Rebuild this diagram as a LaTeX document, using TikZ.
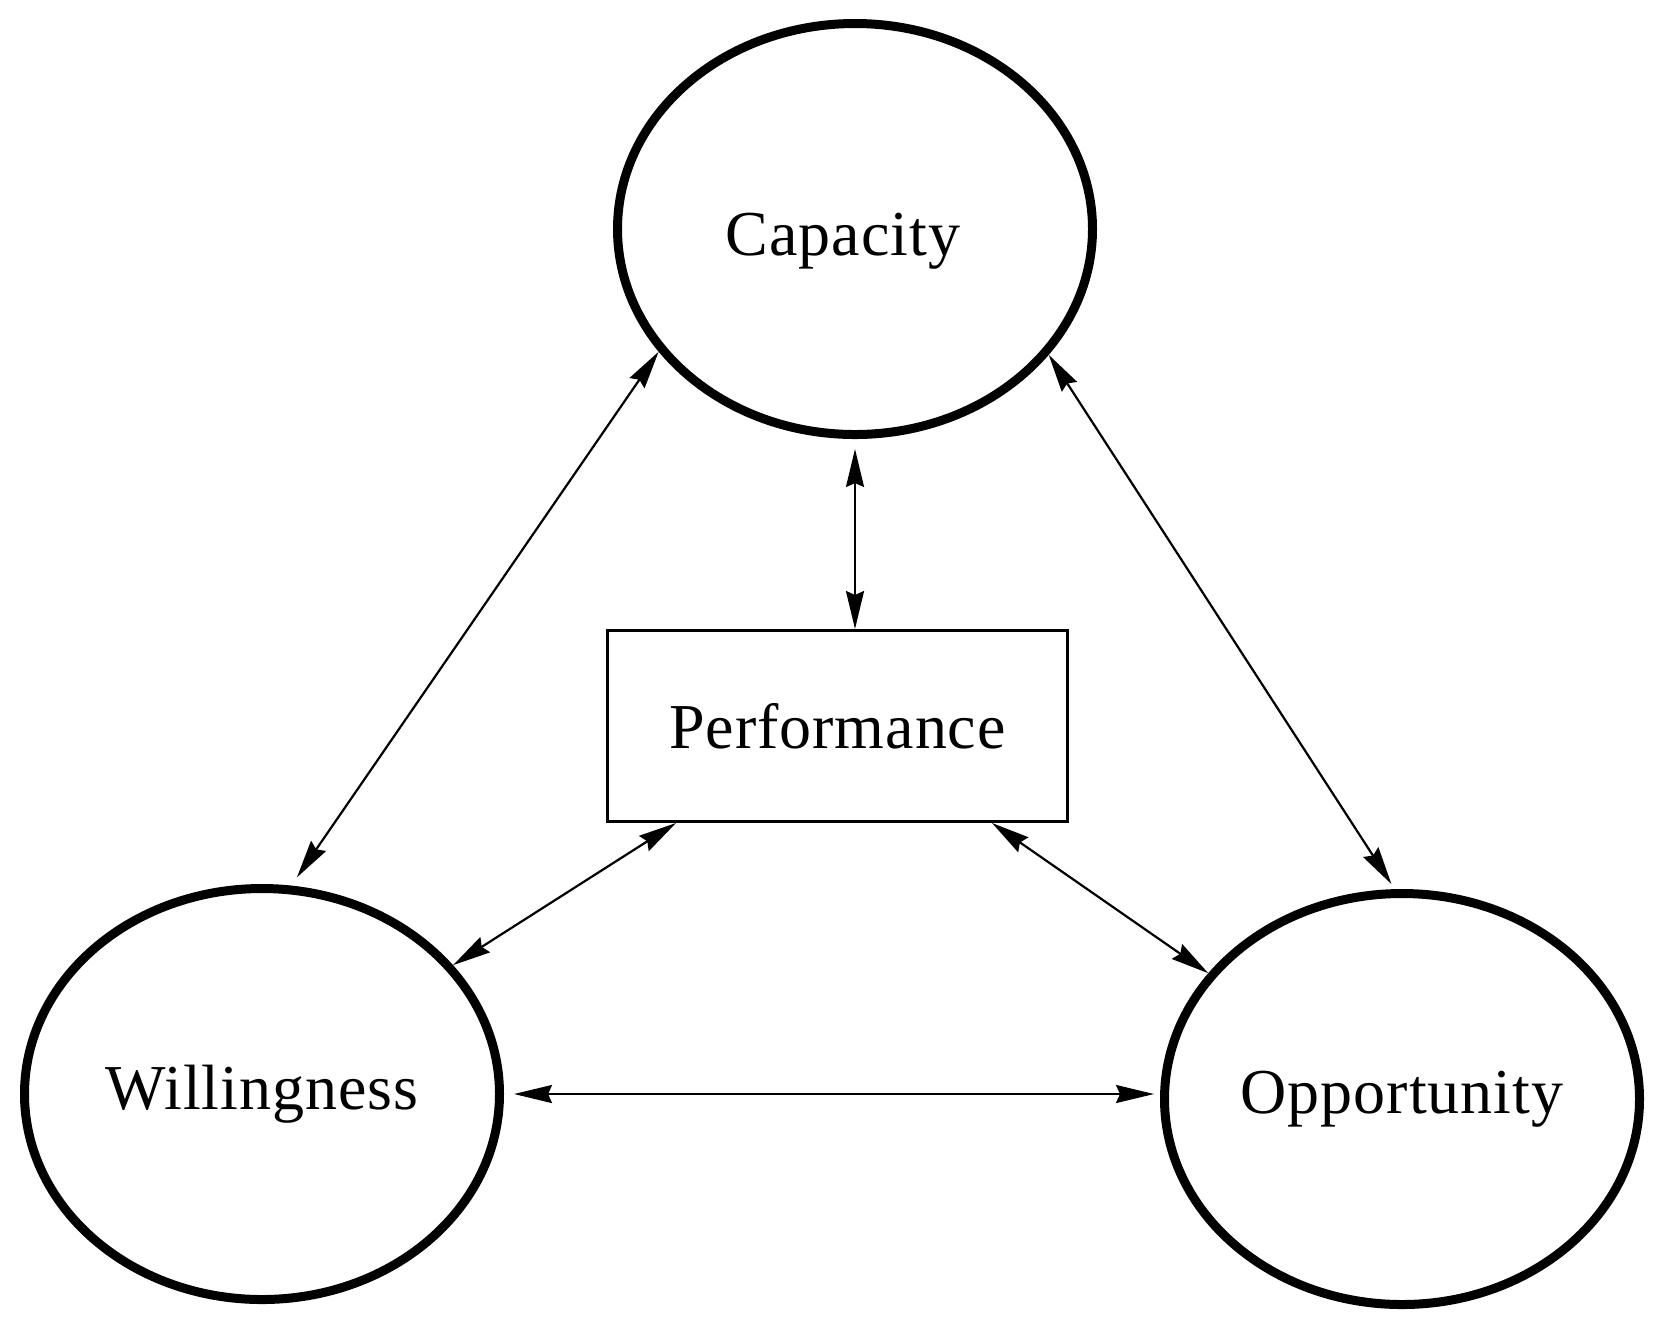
\documentclass[tikz,border=0pt]{standalone}
\usepackage{fontspec}
\setmainfont{Liberation Serif}[LetterSpace=1.5]
\usetikzlibrary{arrows.meta,shapes.geometric,calc}
\begin{document}
\begin{tikzpicture}[x=0.5pt,y=-0.5pt,
  lbl/.style={font=\fontsize{32}{38}\selectfont},
  ell/.style={ellipse,draw,line width=4.5pt,minimum width=237.5pt,minimum height=205.5pt,inner sep=0pt,lbl},
  perfbox/.style={rectangle,draw,line width=1.5pt,minimum width=230pt,minimum height=95.5pt,inner sep=0pt,lbl},
  conn/.style={line width=1.1pt,>={Stealth[length=19pt,width=9pt,inset=2pt]},<->}]
\useasboundingbox (0,0) rectangle (1668,1335);
\node[ell,label={[lbl,xshift=-6pt,yshift=-6pt]center:Capacity}] (cap) at (855,229) {};
\node[ell] (will) at (262,1094) {Willingness};
\node[ell] (opp) at (1402,1099) {Opportunity};
\node[perfbox] (perf) at (837.5,726) {Performance};
\draw[conn, shorten >=5pt] (cap.212) -- (will.82);
\draw[conn, shorten >=3pt] (cap.327) -- (opp.92);
\draw[conn, shorten <=5pt] (cap.south) -- (cap.south |- perf.north);
\draw[conn] ($(perf.south west)+(70,0)$) -- (will.34);
\draw[conn] ($(perf.south east)+(-77,0)$) -- (opp.147);
\draw[conn, shorten <=5pt, shorten >=3pt] (will.east) -- (will.east -| opp.west);
\end{tikzpicture}
\end{document}
